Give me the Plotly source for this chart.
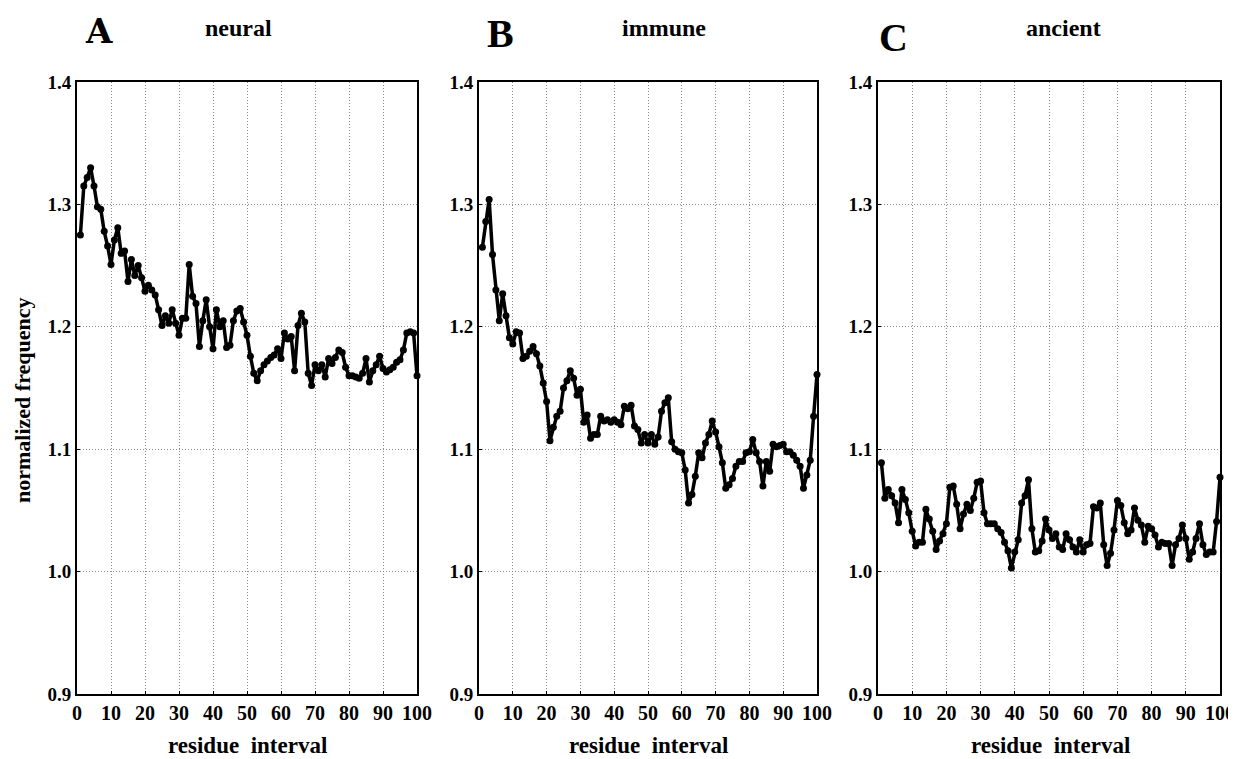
import plotly.graph_objects as go

residue = list(range(1, 101))

neural = [1.275, 1.315, 1.322, 1.330, 1.315, 1.298, 1.296, 1.278, 1.266, 1.251,
          1.271, 1.281, 1.260, 1.262, 1.237, 1.255, 1.242, 1.250, 1.240, 1.229,
          1.234, 1.230, 1.226, 1.214, 1.201, 1.209, 1.203, 1.214, 1.203, 1.193,
          1.207, 1.207, 1.251, 1.225, 1.219, 1.184, 1.205, 1.222, 1.200, 1.182,
          1.214, 1.200, 1.205, 1.183, 1.185, 1.205, 1.213, 1.215, 1.204, 1.193,
          1.176, 1.162, 1.156, 1.164, 1.169, 1.172, 1.175, 1.177, 1.182, 1.174,
          1.195, 1.190, 1.192, 1.164, 1.201, 1.211, 1.204, 1.162, 1.152, 1.169,
          1.164, 1.169, 1.159, 1.174, 1.170, 1.175, 1.181, 1.179, 1.167, 1.160,
          1.160, 1.159, 1.158, 1.162, 1.174, 1.155, 1.164, 1.169, 1.176, 1.166,
          1.163, 1.165, 1.167, 1.171, 1.173, 1.181, 1.195, 1.196, 1.195, 1.160]

immune = [1.265, 1.286, 1.304, 1.259, 1.230, 1.205, 1.227, 1.209, 1.191, 1.186,
          1.196, 1.195, 1.174, 1.176, 1.180, 1.184, 1.178, 1.168, 1.154, 1.139,
          1.107, 1.118, 1.127, 1.131, 1.150, 1.156, 1.164, 1.158, 1.144, 1.149,
          1.122, 1.128, 1.109, 1.112, 1.112, 1.127, 1.123, 1.124, 1.122, 1.124,
          1.122, 1.120, 1.135, 1.133, 1.136, 1.119, 1.116, 1.105, 1.112, 1.105,
          1.112, 1.104, 1.110, 1.131, 1.138, 1.142, 1.106, 1.100, 1.098, 1.097,
          1.083, 1.056, 1.063, 1.078, 1.097, 1.093, 1.105, 1.112, 1.123, 1.114,
          1.102, 1.089, 1.068, 1.071, 1.076, 1.086, 1.090, 1.090, 1.097, 1.098,
          1.108, 1.097, 1.090, 1.070, 1.090, 1.082, 1.104, 1.102, 1.103, 1.104,
          1.098, 1.098, 1.095, 1.091, 1.086, 1.068, 1.079, 1.091, 1.127, 1.161]

ancient = [1.089, 1.060, 1.067, 1.062, 1.056, 1.040, 1.067, 1.059, 1.048, 1.033,
           1.021, 1.024, 1.024, 1.051, 1.043, 1.033, 1.018, 1.025, 1.031, 1.039,
           1.069, 1.070, 1.055, 1.035, 1.047, 1.055, 1.050, 1.060, 1.073, 1.074,
           1.048, 1.039, 1.039, 1.039, 1.035, 1.032, 1.024, 1.017, 1.003, 1.016,
           1.026, 1.056, 1.062, 1.075, 1.035, 1.016, 1.017, 1.025, 1.043, 1.034,
           1.027, 1.031, 1.020, 1.018, 1.031, 1.026, 1.020, 1.016, 1.026, 1.016,
           1.022, 1.023, 1.053, 1.052, 1.056, 1.022, 1.005, 1.015, 1.034, 1.058,
           1.054, 1.040, 1.031, 1.034, 1.052, 1.042, 1.038, 1.024, 1.037, 1.035,
           1.030, 1.020, 1.024, 1.023, 1.023, 1.005, 1.022, 1.027, 1.038, 1.027,
           1.010, 1.016, 1.027, 1.039, 1.022, 1.014, 1.016, 1.016, 1.041, 1.077]

panel_letters = ["A", "B", "C"]
panel_titles = ["neural", "immune", "ancient"]
series = [neural, immune, ancient]
x_ticks = [0, 10, 20, 30, 40, 50, 60, 70, 80, 90, 100]
y_ticks = [0.9, 1.0, 1.1, 1.2, 1.3, 1.4]
y_tick_text = ["0.9", "1.0", "1.1", "1.2", "1.3", "1.4"]

W, H = 1236, 759
OX, OY = 8, 8  # page body margin offset
def px(x):
    return (x - OX) / W
def py(y):
    return 1 - (y - OY) / H

x_domains = [(77, 417), (479, 817), (878, 1220)]
y_domain = [py(694), py(82)]

FONT = "Liberation Serif"
fig = go.Figure()

for i, (vals, dom) in enumerate(zip(series, x_domains)):
    n = "" if i == 0 else str(i + 1)
    fig.add_trace(go.Scatter(
        x=residue, y=vals, mode="lines+markers",
        line=dict(color="black", width=3.5),
        marker=dict(color="black", size=7),
        xaxis="x" + n, yaxis="y" + n, showlegend=False, cliponaxis=False,
    ))
    fig.layout["xaxis" + n] = dict(
        domain=[px(dom[0]), px(dom[1])], range=[0, 100], anchor="y" + n,
        automargin=False,
        tickvals=x_ticks, showgrid=True, gridcolor="#8a8a8a", griddash="1px,2px", gridwidth=1,
        showline=True, linecolor="black", linewidth=2, mirror=True,
        ticks="inside", ticklen=3, tickcolor="black",
        tickfont=dict(family=FONT, size=20, color="black", weight="bold"),
        zeroline=False,
    )
    fig.layout["yaxis" + n] = dict(
        domain=y_domain, range=[0.9, 1.4], anchor="x" + n,
        automargin=False,
        tickvals=y_ticks, ticktext=y_tick_text,
        showgrid=True, gridcolor="#8a8a8a", griddash="1px,2px", gridwidth=1,
        showline=True, linecolor="black", linewidth=2, mirror=True,
        ticks="inside", ticklen=3, tickcolor="black",
        tickfont=dict(family=FONT, size=19, color="black", weight="bold"),
        zeroline=False,
    )

annotations = []
letter_pos = [(99, 31), (500, 34), (893, 37)]
letter_fonts = ["DejaVu Serif", FONT, FONT]
letter_sizes = [34, 40, 40]
title_pos = [(238, 28), (664, 28), (1063, 28)]
xtitle_pos = [(247, 745), (648, 745), (1050, 745)]
for i in range(3):
    annotations.append(dict(
        text=panel_letters[i], x=px(letter_pos[i][0]), y=py(letter_pos[i][1]),
        xref="paper", yref="paper", showarrow=False, xanchor="center", yanchor="middle",
        font=dict(family=letter_fonts[i], size=letter_sizes[i], color="black", weight="bold"),
    ))
    annotations.append(dict(
        text=panel_titles[i], x=px(title_pos[i][0]), y=py(title_pos[i][1]),
        xref="paper", yref="paper", showarrow=False, xanchor="center", yanchor="middle",
        font=dict(family=FONT, size=24, color="black", weight="bold"),
    ))
    annotations.append(dict(
        text="residue\u00a0 interval", x=px(xtitle_pos[i][0]), y=py(xtitle_pos[i][1]),
        xref="paper", yref="paper", showarrow=False, xanchor="center", yanchor="middle",
        font=dict(family=FONT, size=23, color="black", weight="bold"),
    ))
annotations.append(dict(
    text="normalized frequency", x=px(22), y=py(400), xref="paper", yref="paper",
    showarrow=False, textangle=-90, xanchor="center", yanchor="middle",
    font=dict(family=FONT, size=22, color="black", weight="bold"),
))

fig.update_layout(
    width=W, height=H, margin=dict(l=0, r=0, t=0, b=0, autoexpand=False),
    paper_bgcolor="white", plot_bgcolor="white",
    annotations=annotations,
)

fig.write_html("out.html")
